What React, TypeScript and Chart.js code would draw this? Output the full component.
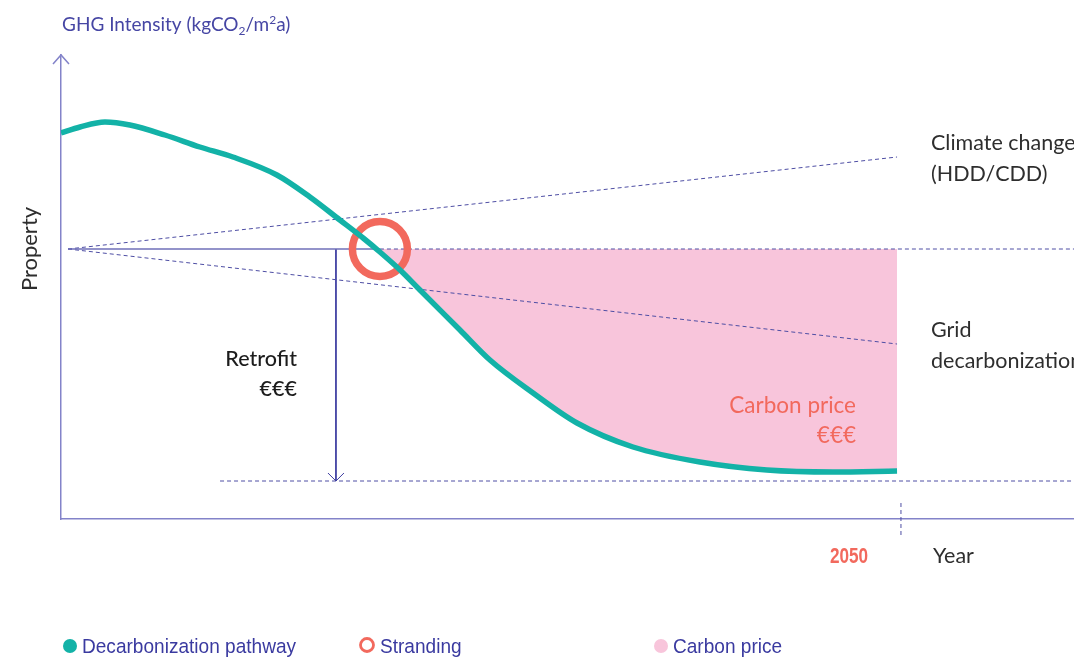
import React, { useEffect, useRef } from "react";
import { Chart, registerables } from "chart.js";

Chart.register(...registerables);

// Years (x) and GHG intensity index (y)
const pathwayYears = [2020.0, 2020.68, 2021.57, 2022.46, 2023.71, 2024.96, 2026.14, 2027.71, 2028.89, 2029.96, 2030.79, 2031.39, 2032.11, 2032.82, 2034.25, 2035.32, 2036.86, 2038.43, 2040.43, 2042.82, 2045.21, 2047.57, 2049.86];
const pathwayValues = [96.5, 98.0, 99.25, 98.5, 96.0, 93.0, 90.5, 86.0, 80.5, 74.75, 70.25, 66.75, 62.25, 57.25, 47.25, 39.75, 31.5, 24.0, 18.0, 14.25, 12.25, 11.75, 12.0];

const startYear = 2020.25;
const endYear = 2049.86;
const axisMaxYear = 2056.18;
const targetYear = 2050;
const strandingYear = 2031.39;
const retrofitYear = 2029.82;
const floorStartYear = 2025.68;

const thresholdValue = 67.5;
const climateEndValue = 90.5;
const gridEndValue = 43.75;
const floorValue = 9.5;

const TEAL = "#13b2a7";
const CORAL = "#f2695d";
const PINK = "#f8c5db";
const AXIS = "#8383c9";
const DOT = "#4e4ea4";
const DARK = "#2e2e2e";
const PURPLE = "#4646a4";
const FONT = "Lato, 'Noto Sans', sans-serif";
const NARROW = "'Liberation Sans', Arial, sans-serif";

const pts = (xs: number[], ys: number[]) => xs.map((x, i) => ({ x, y: ys[i] }));

const annotations = {
  id: "annotations",
  afterDraw(chart: any) {
    const { ctx } = chart;
    const xs = chart.scales.x;
    const ys = chart.scales.y;
    const px = (v: number) => xs.getPixelForValue(v);
    const py = (v: number) => ys.getPixelForValue(v);
    ctx.save();

    const ax = chart.chartArea.left;
    const at = chart.chartArea.top;
    ctx.strokeStyle = AXIS;
    ctx.lineWidth = 1.5;
    ctx.beginPath();
    ctx.moveTo(ax - 8, at + 9);
    ctx.lineTo(ax, at);
    ctx.lineTo(ax + 8, at + 9);
    ctx.stroke();

    const rx = px(retrofitYear);
    const ry = py(floorValue);
    ctx.strokeStyle = "#3c3ca0";
    ctx.lineWidth = 1;
    ctx.beginPath();
    ctx.moveTo(rx - 8, ry - 8);
    ctx.lineTo(rx, ry);
    ctx.lineTo(rx + 8, ry - 8);
    ctx.stroke();

    ctx.fillStyle = PURPLE;
    ctx.textBaseline = "alphabetic";
    ctx.textAlign = "left";
    let x = 62;
    const base = 31;
    const seg = (t: string, size: number, dy: number) => {
      ctx.font = `${size}px ${FONT}`;
      ctx.fillText(t, x, base + dy);
      x += ctx.measureText(t).width;
    };
    seg("GHG Intensity (kgCO", 19, 0);
    seg("2", 12, 4);
    seg("/m", 19, 0);
    seg("2", 12, -7);
    seg("a)", 19, 0);

    ctx.save();
    ctx.translate(37, 249);
    ctx.rotate(-Math.PI / 2);
    ctx.fillStyle = DARK;
    ctx.font = `22px ${FONT}`;
    ctx.textAlign = "center";
    ctx.fillText("Property", 0, 0);
    ctx.restore();

    ctx.fillStyle = DARK;
    ctx.font = `21.5px ${FONT}`;
    ctx.textAlign = "left";
    ctx.fillText("Climate change", 931, 150);
    ctx.fillText("(HDD/CDD)", 931, 181);
    ctx.fillText("Grid", 931, 337);
    ctx.fillText("decarbonization", 931, 368);
    ctx.fillText("Year", 933, 563);

    ctx.fillStyle = "#1c1c1c";
    ctx.font = `500 21.5px ${FONT}`;
    ctx.textAlign = "right";
    ctx.fillText("Retrofit", 297, 366);
    ctx.fillText("€€€", 297, 396);

    ctx.fillStyle = CORAL;
    ctx.font = `22.5px ${FONT}`;
    ctx.fillText("Carbon price", 856, 413);
    ctx.fillText("€€€", 856, 443);

    // 2050 (condensed)
    ctx.save();
    ctx.translate(849, 563);
    ctx.scale(0.78, 1);
    ctx.font = `bold 22px ${NARROW}`;
    ctx.textAlign = "center";
    ctx.fillText("2050", 0, 0);
    ctx.restore();

    // legend
    const ly = 646;
    ctx.fillStyle = TEAL;
    ctx.beginPath();
    ctx.arc(70, ly, 7, 0, Math.PI * 2);
    ctx.fill();
    ctx.strokeStyle = CORAL;
    ctx.lineWidth = 2.8;
    ctx.beginPath();
    ctx.arc(367, ly - 1, 6.5, 0, Math.PI * 2);
    ctx.stroke();
    ctx.fillStyle = PINK;
    ctx.beginPath();
    ctx.arc(661, ly, 7, 0, Math.PI * 2);
    ctx.fill();
    ctx.fillStyle = "#3a3aa0";
    ctx.textAlign = "left";
    ctx.font = `20.5px ${NARROW}`;
    const legendText = (t: string, lx: number) => {
      ctx.save();
      ctx.translate(lx, 653);
      ctx.scale(0.93, 1);
      ctx.fillText(t, 0, 0);
      ctx.restore();
    };
    legendText("Decarbonization pathway", 82);
    legendText("Stranding", 380);
    legendText("Carbon price", 673);

    ctx.restore();
  },
};

export default function App() {
  const ref = useRef<HTMLCanvasElement>(null);
  useEffect(() => {
    document.body.style.margin = "0";
    document.documentElement.style.overflow = "hidden";
    const dotted = (data: any[]) => ({
      type: "line" as const,
      data,
      borderColor: DOT,
      borderWidth: 1,
      borderDash: [4, 3],
      pointRadius: 0,
      fill: false,
    });
    const chart = new Chart(ref.current!, {
      type: "line",
      data: {
        datasets: [
          {
            label: "Decarbonization pathway",
            data: pts(pathwayYears, pathwayValues),
            borderColor: TEAL,
            borderWidth: 5.5,
            pointRadius: 0,
            cubicInterpolationMode: "monotone",
            fill: { value: thresholdValue, above: "rgba(0,0,0,0)", below: PINK },
          } as any,
          {
            type: "scatter",
            label: "Stranding",
            data: [{ x: strandingYear, y: thresholdValue }],
            pointRadius: 27.5,
            pointBorderWidth: 7.5,
            pointBorderColor: CORAL,
            pointBackgroundColor: "rgba(0,0,0,0)",
          } as any,
          {
            label: "threshold",
            data: [
              { x: startYear, y: thresholdValue },
              { x: strandingYear, y: thresholdValue },
            ],
            borderColor: "#6f6fb8",
            borderWidth: 1.5,
            pointRadius: 0,
            fill: false,
          },
          dotted([
            { x: strandingYear, y: thresholdValue },
            { x: axisMaxYear, y: thresholdValue },
          ]),
          dotted([
            { x: startYear, y: thresholdValue },
            { x: endYear, y: climateEndValue },
          ]),
          dotted([
            { x: startYear, y: thresholdValue },
            { x: endYear, y: gridEndValue },
          ]),
          dotted([
            { x: floorStartYear, y: floorValue },
            { x: axisMaxYear, y: floorValue },
          ]),
          {
            label: "retrofit",
            data: [
              { x: retrofitYear, y: thresholdValue },
              { x: retrofitYear, y: floorValue },
            ],
            borderColor: "#3c3ca0",
            borderWidth: 1,
            pointRadius: 0,
            fill: false,
          },
          {
            ...dotted([
              { x: targetYear, y: 4 },
              { x: targetYear, y: -4 },
            ]),
            clip: false,
          } as any,
        ],
      },
      options: {
        animation: false,
        responsive: true,
        maintainAspectRatio: false,
        layout: { autoPadding: false, padding: { left: 61, top: 55, right: 0, bottom: 139 } },
        plugins: {
          legend: { display: false },
          tooltip: { enabled: false },
          filler: { drawTime: "beforeDatasetsDraw", propagate: false },
        },
        scales: {
          x: {
            type: "linear",
            min: 2020,
            max: axisMaxYear,
            grid: { display: false, drawTicks: false },
            ticks: { display: false },
            border: { display: true, color: AXIS, width: 1.5 },
            afterFit: (s: any) => {
              s.height = 0;
            },
          },
          y: {
            type: "linear",
            min: 0,
            max: 116,
            grid: { display: false, drawTicks: false },
            ticks: { display: false },
            border: { display: true, color: AXIS, width: 1.5 },
            afterFit: (s: any) => {
              s.width = 0;
            },
          },
        },
      },
      plugins: [annotations],
    });
    return () => chart.destroy();
  }, []);
  return (
    <div style={{ position: "relative", width: 1074, height: 658 }}>
      <canvas ref={ref} />
    </div>
  );
}
